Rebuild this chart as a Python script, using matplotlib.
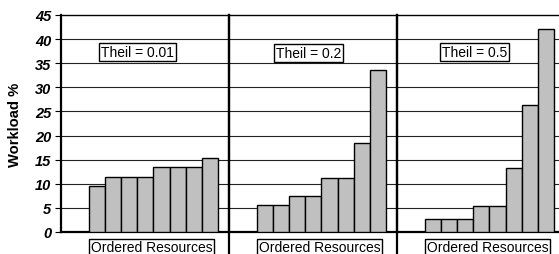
import matplotlib
matplotlib.use("Agg")
import matplotlib.pyplot as plt
from matplotlib.lines import Line2D

plt.rcParams['font.family'] = ['Liberation Sans', 'DejaVu Sans']

theil_labels = ["Theil = 0.01", "Theil = 0.2", "Theil = 0.5"]
workloads = [
    [9.6, 11.5, 11.5, 11.5, 13.5, 13.5, 13.5, 15.4],
    [5.5, 5.5, 7.4, 7.4, 11.1, 11.1, 18.5, 33.5],
    [2.6, 2.6, 2.6, 5.3, 5.3, 13.2, 26.3, 42.1],
]
label_pos = [(2.5, 37.4), (2.7, 37.1), (2.55, 37.4)]
yticks = [0, 5, 10, 15, 20, 25, 30, 35, 40, 45]
xlabel = "Ordered Resources"
ylabel = "Workload %"

W, H = 559, 255
fig = plt.figure(figsize=(W / 100, H / 100), dpi=100)

left_px, panel_px = 61, 168
bottom_px, top_px = 233, 16

for k in range(3):
    x0 = (left_px + k * panel_px) / W
    ax = fig.add_axes([x0, 1 - bottom_px / H, panel_px / W, (bottom_px - top_px) / H])
    vals = workloads[k]
    xs = list(range(len(vals)))
    ax.bar(xs, vals, width=1.0, color='#c0c0c0', edgecolor='black', linewidth=1.0, zorder=3)
    ax.set_xlim(-2.24, 8.19)
    ax.set_ylim(0, 45)
    ax.set_yticks(yticks)
    for t in yticks[1:-1]:
        ax.axhline(t, color='#222222', linewidth=0.8, zorder=1)
    ax.set_xticks([])
    ax.spines['right'].set_visible(False)
    ax.spines['top'].set_linewidth(1.0)
    ax.spines['bottom'].set_linewidth(1.6)
    ax.spines['left'].set_linewidth(1.6)
    if k == 0:
        ax.tick_params(axis='y', length=4, width=0.8, pad=3, direction='out')
        for lab in ax.get_yticklabels():
            lab.set_fontweight('bold')
            lab.set_fontstyle('italic')
            lab.set_fontsize(10.5)
    else:
        ax.tick_params(axis='y', left=False, labelleft=False)
    lx, ly = label_pos[k]
    ax.text(lx, ly, theil_labels[k], ha='center', va='center', fontsize=10, zorder=5,
            bbox=dict(boxstyle='square,pad=0.14', fc='white', ec='black', lw=1.0))
    ax.annotate(xlabel, xy=(-0.5, 0), xycoords=('data', 'axes fraction'),
                xytext=(1.5, -8.5), textcoords='offset pixels', ha='left', va='top',
                fontsize=10, annotation_clip=False,
                bbox=dict(boxstyle='square,pad=0.12', fc='white', ec='black', lw=1.0))
    if k > 0:
        xl = x0
        fig.add_artist(Line2D([xl, xl], [0, 1 - top_px / H], color='black', linewidth=1.6,
                              transform=fig.transFigure, zorder=10))

fig.text(15.5 / W, 1 - 125 / H, ylabel, rotation=90, ha='center', va='center',
         fontsize=10.6, fontweight='bold')

fig.savefig("out.png", dpi=100)
